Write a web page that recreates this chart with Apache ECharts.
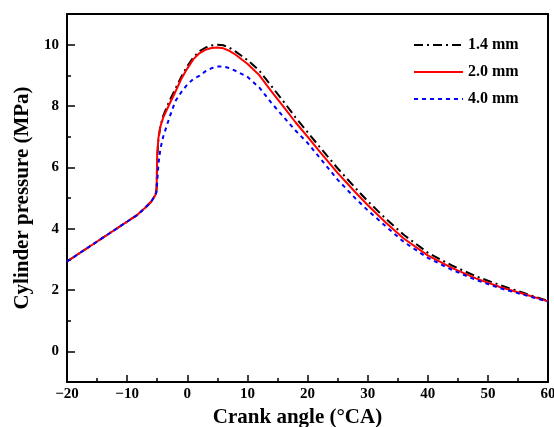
<!DOCTYPE html>
<html>
<head>
<meta charset="utf-8">
<script src="https://cdn.jsdelivr.net/npm/echarts@6/dist/echarts.min.js"></script>
<style>html,body{margin:0;padding:0;background:#fff;}#c{width:554px;height:427px;}</style>
</head>
<body>
<div id="c"></div>
<script>
var crankAngle = [-20, -8.3, -7, -6, -5.3, -5.1, -5.0, -4.8, -4.5, -4.2, -4, -3, -2, -1, 0, 1, 2, 3, 4, 5, 6, 7, 8, 10, 12, 14, 16, 18, 20, 22, 25, 28, 30, 33, 36, 40, 44, 48, 52, 56, 60];
var p14 = [2.93, 4.45, 4.68, 4.88, 5.1, 5.3, 6.3, 6.9, 7.3, 7.55, 7.68, 8.15, 8.55, 8.95, 9.3, 9.58, 9.78, 9.9, 9.97, 10.0, 9.98, 9.9, 9.78, 9.5, 9.15, 8.65, 8.15, 7.63, 7.15, 6.67, 5.97, 5.32, 4.9, 4.33, 3.8, 3.22, 2.8, 2.45, 2.16, 1.9, 1.64];
var p20 = [2.93, 4.45, 4.68, 4.88, 5.1, 5.3, 6.4, 6.95, 7.3, 7.5, 7.62, 8.05, 8.45, 8.88, 9.22, 9.52, 9.72, 9.83, 9.89, 9.91, 9.88, 9.8, 9.68, 9.38, 9.0, 8.48, 7.98, 7.47, 7.0, 6.52, 5.82, 5.18, 4.77, 4.2, 3.68, 3.13, 2.72, 2.38, 2.1, 1.87, 1.63];
var p40 = [2.93, 4.45, 4.68, 4.88, 5.1, 5.2, 5.5, 6.1, 6.55, 6.85, 7.0, 7.6, 8.15, 8.45, 8.7, 8.88, 8.98, 9.13, 9.23, 9.29, 9.29, 9.24, 9.15, 8.95, 8.6, 8.1, 7.65, 7.2, 6.8, 6.32, 5.6, 4.98, 4.6, 4.08, 3.57, 3.05, 2.66, 2.33, 2.06, 1.84, 1.62];
var seriesNames = ['1.4 mm', '2.0 mm', '4.0 mm'];
var yMajor = [0, 2, 4, 6, 8, 10];
var yMinor = [-1, 1, 3, 5, 7, 9, 11];

function pairs(ys) { return crankAngle.map(function (x, i) { return [x, ys[i]]; }); }

var font = 'Liberation Serif, Times New Roman, serif';
var chart = echarts.init(document.getElementById('c'), null, { renderer: 'canvas' });
chart.setOption({
  animation: false,
  backgroundColor: '#fff',
  grid: { left: 67, right: 6, top: 14, bottom: 45, containLabel: false, outerBoundsMode: 'none' },
  legend: {
    orient: 'vertical', left: 408, top: 32,
    itemWidth: 49, itemHeight: 14, itemGap: 11,
    selectedMode: false,
    itemStyle: { opacity: 0 },
    textStyle: { fontFamily: font, fontWeight: 'bold', fontSize: 16, color: '#000' },
    data: seriesNames
  },
  xAxis: [{
    type: 'value', min: -20, max: 60, interval: 10, position: 'bottom',
    axisLine: { show: true, onZero: false, lineStyle: { color: '#000', width: 2 } },
    axisTick: { show: true, inside: true, length: 7, lineStyle: { color: '#000', width: 1.5 } },
    minorTick: { show: true, splitNumber: 2, length: 4, lineStyle: { color: '#000', width: 1.5 } },
    splitLine: { show: false }, minorSplitLine: { show: false },
    axisLabel: { margin: 5, fontFamily: font, fontWeight: 'bold', fontSize: 15, color: '#000',
      formatter: function (v) { return String(v).replace('-', '\u2212'); } },
    name: 'Crank angle (\u00B0CA)', nameLocation: 'middle', nameGap: 22,
    nameTextStyle: { fontFamily: font, fontWeight: 'bold', fontSize: 21, color: '#000', padding: [0, 20, 0, 0] }
  }, {
    type: 'value', min: -20, max: 60, position: 'top',
    axisLine: { show: true, onZero: false, lineStyle: { color: '#000', width: 2 } },
    axisTick: { show: false }, axisLabel: { show: false }, splitLine: { show: false }
  }],
  yAxis: [{
    type: 'value', min: -1, max: 11, interval: 1, position: 'left',
    axisLine: { show: true, onZero: false, lineStyle: { color: '#000', width: 2 } },
    axisTick: { show: true, inside: true, length: 8, customValues: yMajor, lineStyle: { color: '#000', width: 1.5 } },
    splitLine: { show: false },
    axisLabel: { margin: 8, customValues: yMajor, fontFamily: font, fontWeight: 'bold', fontSize: 15, color: '#000' },
    name: 'Cylinder pressure (MPa)', nameLocation: 'middle', nameGap: 32,
    nameTextStyle: { fontFamily: font, fontWeight: 'bold', fontSize: 21, color: '#000' }
  }, {
    type: 'value', min: -1, max: 11, interval: 1, position: 'left', offset: 0,
    axisLine: { show: false, onZero: false },
    axisTick: { show: true, inside: true, length: 4, customValues: yMinor, lineStyle: { color: '#000', width: 1.5 } },
    axisLabel: { show: false }, splitLine: { show: false }
  }, {
    type: 'value', min: -1, max: 11, position: 'right',
    axisLine: { show: true, onZero: false, lineStyle: { color: '#000', width: 2 } },
    axisTick: { show: false }, axisLabel: { show: false }, splitLine: { show: false }
  }],
  series: [{
    name: seriesNames[0], type: 'line', data: pairs(p14), showSymbol: false, symbol: 'none',
    smooth: false, z: 3,
    lineStyle: { color: '#000', width: 2, type: [9, 4, 2, 4] }, itemStyle: { color: '#000' }
  }, {
    name: seriesNames[1], type: 'line', data: pairs(p20), showSymbol: false, symbol: 'none',
    smooth: false, z: 4,
    lineStyle: { color: '#ff0000', width: 2, type: 'solid' }, itemStyle: { color: '#ff0000' }
  }, {
    name: seriesNames[2], type: 'line', data: pairs(p40), showSymbol: false, symbol: 'none',
    smooth: false, z: 5,
    lineStyle: { color: '#0000ff', width: 2, type: [4, 4] }, itemStyle: { color: '#0000ff' }
  }]
});
</script>
</body>
</html>
